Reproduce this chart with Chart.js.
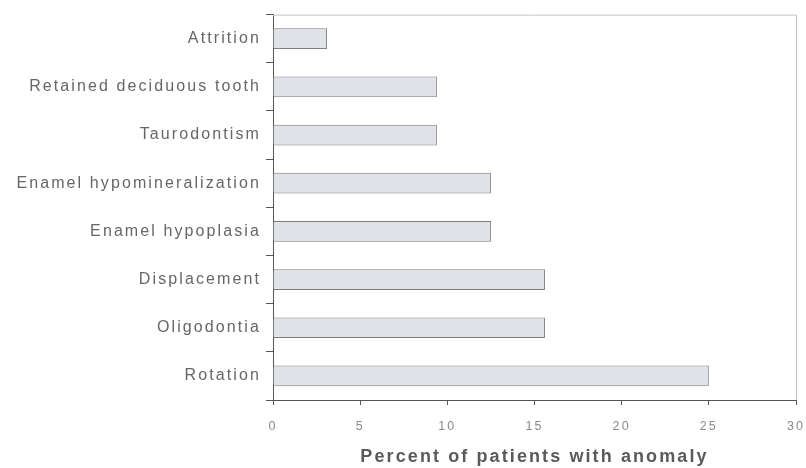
<!DOCTYPE html>
<html>
<head>
<meta charset="utf-8">
<script src="https://cdn.jsdelivr.net/npm/chart.js@4.4.1/dist/chart.umd.min.js"></script>
<style>
  html, body { margin: 0; padding: 0; background: #fff; }
  #wrap { width: 806px; height: 468px; }
</style>
</head>
<body>
<div id="wrap"><canvas id="chart" width="806" height="468"></canvas></div>
<script>
const anomalies = [
  "Attrition",
  "Retained deciduous tooth",
  "Taurodontism",
  "Enamel hypomineralization",
  "Enamel hypoplasia",
  "Displacement",
  "Oligodontia",
  "Rotation"
];
const percents = [3.1, 9.4, 9.4, 12.5, 12.5, 15.6, 15.6, 25.0];
const xTicks = [0, 5, 10, 15, 20, 25, 30];

// scanned look: letters are spread out a bit
function spacing(chart) {
  chart.ctx.letterSpacing = "2.1px";
}

const framePlugin = {
  id: "frame",
  beforeUpdate: spacing,
  beforeLayout: spacing,
  beforeDraw: spacing,
  afterDraw(chart) {
    const { ctx, chartArea: a } = chart;
    ctx.save();
    ctx.strokeStyle = "#c4c4c4";
    ctx.lineWidth = 1;
    ctx.beginPath();
    ctx.moveTo(a.left, a.top + 0.5);
    ctx.lineTo(a.right + 0.5, a.top + 0.5);
    ctx.lineTo(a.right + 0.5, a.bottom);
    ctx.stroke();
    ctx.restore();
  }
};

new Chart(document.getElementById("chart").getContext("2d"), {
  type: "bar",
  data: {
    labels: anomalies,
    datasets: [{
      data: percents,
      backgroundColor: "#dfe2e7",
      borderColor: "#7d7d7d",
      borderWidth: 1,
      categoryPercentage: 0.43,
      barPercentage: 1
    }]
  },
  options: {
    indexAxis: "y",
    responsive: false,
    animation: false,
    layout: { padding: { top: 12, right: 10, left: 0, bottom: 0 } },
    plugins: { legend: { display: false }, tooltip: { enabled: false } },
    scales: {
      x: {
        min: 0,
        max: 30,
        afterBuildTicks(scale) {
          scale.ticks = xTicks.map(v => ({ value: v }));
        },
        afterFit(scale) {
          scale.height = 68;
          scale.paddingRight = 0;
          scale.paddingLeft = 0;
        },
        grid: { drawOnChartArea: false, color: "#555", tickLength: 5 },
        border: { color: "#555", width: 1 },
        ticks: { color: "#8a8a8a", padding: 14, font: { family: "Liberation Sans", size: 12.5 } },
        title: {
          display: true,
          text: "Percent of patients with anomaly",
          color: "#5a5a5a",
          padding: { top: 6, bottom: 0 },
          font: { family: "Liberation Sans", size: 18, weight: "bold" }
        }
      },
      y: {
        afterFit(scale) { scale.width = 273; },
        grid: { drawOnChartArea: false, offset: true, color: "#555", tickLength: 7 },
        border: { color: "#555", width: 1 },
        ticks: { color: "#666", padding: 5, font: { family: "Liberation Sans", size: 16 } }
      }
    }
  },
  plugins: [framePlugin]
});
</script>
</body>
</html>
